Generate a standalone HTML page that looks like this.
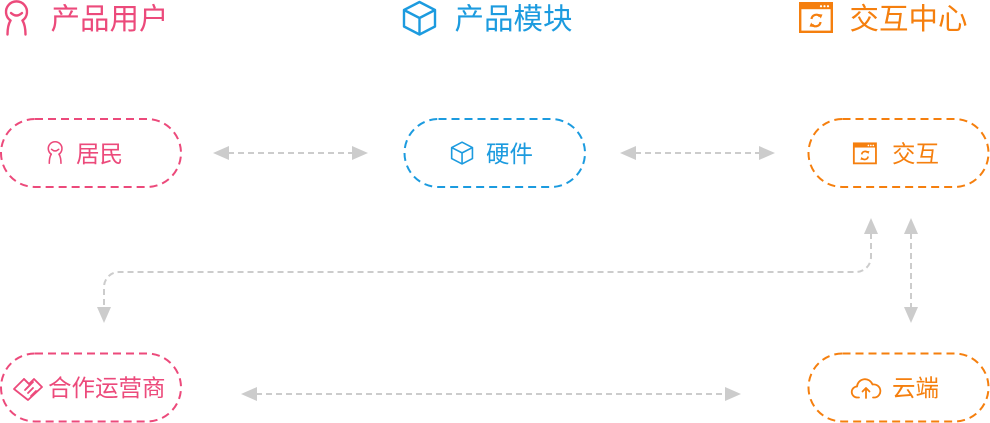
<!DOCTYPE html>
<html>
<head>
<meta charset="utf-8">
<style>
  html,body{margin:0;padding:0;background:#fff;}
  svg{display:block;}
  text{font-family:"Liberation Sans","Noto Sans CJK SC",sans-serif;}
</style>
</head>
<body>
<svg width="990" height="423" viewBox="0 0 990 423" xmlns="http://www.w3.org/2000/svg">
  <defs>
    <g id="person" fill="none" stroke-width="2.4" stroke-linecap="round">
      <path d="M6.5,19.5 A10.5,10.5 0 1 1 18.5,19.5"/>
      <path d="M7,12 q5.5,5 11,0"/>
      <path d="M6.5,19.5 q-3,5 -3,14"/>
      <path d="M18.5,19.5 q3,5 3,14"/>
    </g>
    <g id="cube" fill="none" stroke-width="2.4" stroke-linejoin="round">
      <polygon points="16.5,1 32,9 32,25.5 16.5,33.5 1,25.5 1,9"/>
      <path d="M1,9 L16.5,17 L32,9 M16.5,17 V33.5"/>
    </g>
  </defs>

  <!-- Headers -->
  <g stroke="#EC4A7B"><use href="#person" transform="translate(4,1)"/></g>
  <text x="50.5" y="29" font-size="29.5" fill="#EC4A7B">产品用户</text>

  <g stroke="#1C9BDF"><use href="#cube" transform="translate(403,1)"/></g>
  <text x="454.5" y="29" font-size="29.5" fill="#1C9BDF">产品模块</text>

  <g transform="translate(799,2)">
    <rect x="1.2" y="1.2" width="31.6" height="28.6" fill="none" stroke="#F57F0E" stroke-width="2.4"/>
    <rect x="1.2" y="1.2" width="31.6" height="6" fill="#F57F0E"/>
    <circle cx="22" cy="4.2" r="1.1" fill="#fff"/>
    <circle cx="25.5" cy="4.2" r="1.1" fill="#fff"/>
    <circle cx="29" cy="4.2" r="1.1" fill="#fff"/>
    <path d="M12.5,17 a4.8,4.8 0 0 1 8.5,-2.5" fill="none" stroke="#F57F0E" stroke-width="2.2"/>
    <path d="M21.5,20 a4.8,4.8 0 0 1 -8.5,2.5" fill="none" stroke="#F57F0E" stroke-width="2.2"/>
    <polygon points="19,12 23.5,12.5 21.8,16.5" fill="#F57F0E"/>
    <polygon points="15,25 10.5,24.5 12.2,20.5" fill="#F57F0E"/>
  </g>
  <text x="849.5" y="29" font-size="29.5" fill="#F57F0E">交互中心</text>

  <!-- Node boxes -->
  <g fill="none" stroke-width="2" stroke-dasharray="8 5">
    <rect x="1" y="119" width="180" height="68" rx="34" stroke="#EC4A7B"/>
    <rect x="404.5" y="119" width="180.5" height="68" rx="34" stroke="#1C9BDF"/>
    <rect x="808.5" y="119" width="180" height="68" rx="34" stroke="#F57F0E"/>
    <rect x="1" y="353.5" width="180" height="68" rx="34" stroke="#EC4A7B"/>
    <rect x="808.5" y="353.5" width="180" height="68" rx="34" stroke="#F57F0E"/>
  </g>

  <!-- Node: 居民 -->
  <g stroke="#EC4A7B"><use href="#person" transform="translate(47,141.5) scale(0.65)"/></g>
  <text x="76" y="162" font-size="23.5" fill="#EC4A7B">居民</text>

  <!-- Node: 硬件 -->
  <g stroke="#1C9BDF"><use href="#cube" transform="translate(451,141.5) scale(0.67)"/></g>
  <text x="486" y="162" font-size="23.5" fill="#1C9BDF">硬件</text>

  <!-- Node: 交互 -->
  <g transform="translate(853,142.5) scale(0.7)">
    <rect x="1.2" y="1.2" width="31.6" height="28.6" fill="none" stroke="#F57F0E" stroke-width="2.6"/>
    <rect x="1.2" y="1.2" width="31.6" height="6" fill="#F57F0E"/>
    <circle cx="22" cy="4.2" r="1.2" fill="#fff"/>
    <circle cx="25.5" cy="4.2" r="1.2" fill="#fff"/>
    <circle cx="29" cy="4.2" r="1.2" fill="#fff"/>
    <path d="M12.5,17 a4.8,4.8 0 0 1 8.5,-2.5" fill="none" stroke="#F57F0E" stroke-width="2.4"/>
    <path d="M21.5,20 a4.8,4.8 0 0 1 -8.5,2.5" fill="none" stroke="#F57F0E" stroke-width="2.4"/>
    <polygon points="19,12 23.5,12.5 21.8,16.5" fill="#F57F0E"/>
    <polygon points="15,25 10.5,24.5 12.2,20.5" fill="#F57F0E"/>
  </g>
  <text x="892" y="162" font-size="23.5" fill="#F57F0E">交互</text>

  <!-- Node: 合作运营商 -->
  <g fill="none" stroke="#EC4A7B" stroke-width="1.8" stroke-linejoin="round" stroke-linecap="round">
    <path d="M14,389 L24,379 L29,384 L34,379 L42,387 L28,400 Z"/>
    <path d="M24,379 L30,385 M26,389 L33,382"/>
    <path d="M28,393 L33,388 M31,396 L36,391 M25,390 L30,385"/>
  </g>
  <text x="48" y="396" font-size="23.5" fill="#EC4A7B">合作运营商</text>

  <!-- Node: 云端 -->
  <g fill="none" stroke="#F57F0E" stroke-width="1.8" stroke-linecap="round" stroke-linejoin="round">
    <path d="M859,397.5 h-1.5 a5.5,5.5 0 0 1 -0.5,-11 a8,8 0 0 1 15.5,-2 a6.5,6.5 0 0 1 2.5,13 h-2"/>
    <path d="M866,398 V388 M862.5,391.5 L866,388 L869.5,391.5"/>
  </g>
  <text x="892" y="396" font-size="23.5" fill="#F57F0E">云端</text>

  <!-- Connectors -->
  <g fill="none" stroke="#CCCCCC" stroke-width="2" stroke-dasharray="6 4">
    <line x1="228" y1="153" x2="353" y2="153"/>
    <line x1="635" y1="153" x2="760" y2="153"/>
    <line x1="256" y1="394" x2="726" y2="394"/>
    <line x1="911" y1="233" x2="911" y2="308"/>
    <path d="M871,233 V257 A15,15 0 0 1 856,272 H119 A15,15 0 0 0 104,287 V308"/>
  </g>
  <g fill="#CCCCCC">
    <polygon points="213,153 229,146 229,160"/>
    <polygon points="368,153 352,146 352,160"/>
    <polygon points="620,153 636,146 636,160"/>
    <polygon points="775,153 759,146 759,160"/>
    <polygon points="241,394 257,387 257,401"/>
    <polygon points="741,394 725,387 725,401"/>
    <polygon points="911,218 904,234 918,234"/>
    <polygon points="911,323 904,307 918,307"/>
    <polygon points="871,218 864,234 878,234"/>
    <polygon points="104,323 97,307 111,307"/>
  </g>
</svg>
</body>
</html>
